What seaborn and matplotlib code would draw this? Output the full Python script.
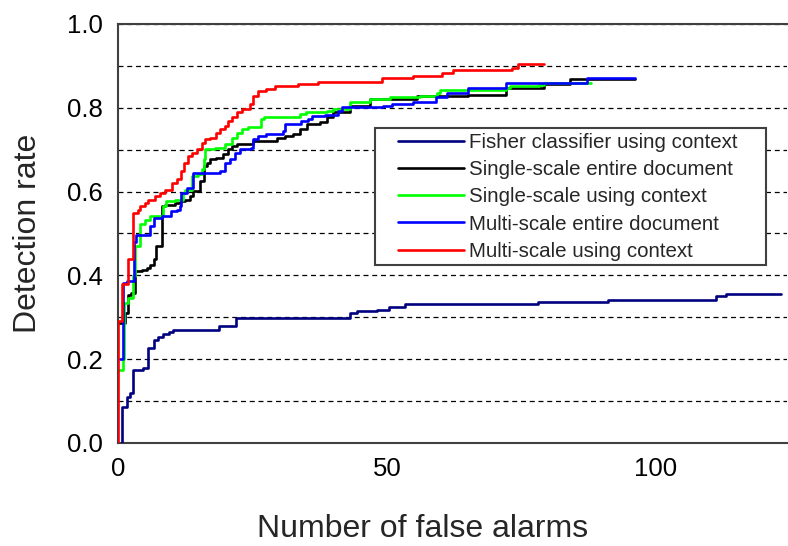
import numpy as np
import pandas as pd
import matplotlib
matplotlib.use("Agg")
import matplotlib.pyplot as plt
from matplotlib.ticker import FormatStrFormatter, MultipleLocator, FixedLocator
from matplotlib.patches import Rectangle
from matplotlib.lines import Line2D
import seaborn as sns

# ---------------- data ----------------
series_names = [
    "Fisher classifier using context",
    "Single-scale entire document",
    "Single-scale using context",
    "Multi-scale entire document",
    "Multi-scale using context",
]
series_colors = ["#000080", "#000000", "#00FF00", "#0000FF", "#FF0000"]

fisher_x = [0.8, 0.8, 1.6, 2.2, 2.8, 4.7, 5.6, 6.7, 7.5, 8.4, 9.4, 10.3, 18.8, 21.9,
            43.1, 44.4, 48.1, 50.3, 53.3, 78.1, 91.1, 111.2, 113.1, 123.2]
fisher_y = [0.0, 0.087, 0.11, 0.12, 0.175, 0.18, 0.227, 0.245, 0.253, 0.26, 0.265, 0.27,
            0.28, 0.298, 0.31, 0.314, 0.318, 0.325, 0.332, 0.337, 0.342, 0.35, 0.356, 0.356]

single_entire_x = [0.0, 1.3, 1.8, 2.4, 3.2, 4.4, 5.3, 5.9, 6.6, 7.0, 8.1, 8.7, 10.6, 11.5,
                   12.5, 13.4, 14.0, 15.2, 15.9, 16.5, 17.1, 18.3, 19.5, 20.5, 21.1, 22.1,
                   25.1, 29.5, 31.0, 32.6, 33.8, 35.1, 37.5, 38.8, 40.0, 43.1, 46.8, 55.5,
                   65.0, 72.1, 79.1, 84.0, 96.1]
single_entire_y = [0.286, 0.31, 0.354, 0.358, 0.41, 0.414, 0.418, 0.426, 0.438, 0.47, 0.566,
                   0.569, 0.573, 0.577, 0.581, 0.589, 0.601, 0.625, 0.66, 0.669, 0.677, 0.681,
                   0.689, 0.701, 0.709, 0.713, 0.721, 0.729, 0.733, 0.737, 0.749, 0.761, 0.765,
                   0.777, 0.789, 0.805, 0.821, 0.828, 0.830, 0.848, 0.856, 0.869, 0.869]

single_context_x = [0.0, 1.0, 1.2, 1.9, 2.8, 3.2, 4.1, 5.0, 6.0, 8.3, 9.0, 10.6, 12.0, 12.4,
                    13.8, 14.8, 15.6, 15.9, 16.2, 18.0, 19.9, 21.1, 22.1, 23.0, 24.2, 26.5,
                    27.1, 33.9, 35.0, 38.8, 40.0, 43.1, 46.8, 50.5, 56.1, 59.3, 59.9, 72.1,
                    72.8, 78.2, 79.1, 88.0]
single_context_y = [0.175, 0.2, 0.334, 0.346, 0.398, 0.47, 0.522, 0.533, 0.541, 0.565, 0.577,
                    0.581, 0.597, 0.605, 0.637, 0.641, 0.653, 0.677, 0.701, 0.705, 0.713,
                    0.729, 0.741, 0.749, 0.755, 0.773, 0.777, 0.785, 0.790, 0.793, 0.797,
                    0.813, 0.821, 0.825, 0.828, 0.836, 0.843, 0.848, 0.852, 0.854, 0.86, 0.86]

multi_entire_x = [0.3, 0.9, 1.0, 1.7, 3.0, 3.4, 5.9, 6.7, 8.1, 9.9, 10.9, 11.5, 11.8, 12.8,
                  14.0, 19.0, 19.9, 20.8, 21.7, 22.7, 24.8, 25.1, 26.1, 27.6, 30.7, 31.0,
                  34.1, 35.4, 36.0, 38.5, 40.9, 41.6, 49.3, 50.9, 54.9, 59.2, 61.1, 65.1,
                  72.1, 87.1, 96.1]
multi_entire_y = [0.2, 0.286, 0.382, 0.386, 0.48, 0.497, 0.517, 0.537, 0.541, 0.553, 0.557,
                  0.565, 0.597, 0.609, 0.645, 0.649, 0.669, 0.677, 0.693, 0.701, 0.705, 0.725,
                  0.733, 0.737, 0.745, 0.761, 0.769, 0.773, 0.781, 0.782, 0.793, 0.801, 0.805,
                  0.809, 0.813, 0.825, 0.836, 0.848, 0.86, 0.87, 0.87]

multi_context_x = [0.0, 0.0, 0.8, 1.8, 2.7, 3.7, 4.1, 5.0, 5.6, 6.9, 7.8, 8.7, 10.0, 10.9,
                   11.8, 12.3, 13.1, 13.7, 14.6, 15.6, 16.2, 17.1, 18.3, 19.0, 19.9, 20.5,
                   21.1, 22.1, 23.0, 24.5, 25.1, 26.1, 27.6, 29.2, 33.5, 37.2, 49.0, 54.9,
                   60.2, 62.3, 73.2, 74.4, 79.1]
multi_context_y = [0.0, 0.29, 0.38, 0.438, 0.55, 0.557, 0.565, 0.573, 0.581, 0.589, 0.597,
                   0.605, 0.621, 0.629, 0.649, 0.669, 0.685, 0.693, 0.701, 0.717, 0.725, 0.729,
                   0.741, 0.749, 0.757, 0.769, 0.777, 0.789, 0.797, 0.809, 0.828, 0.841, 0.846,
                   0.851, 0.856, 0.862, 0.870, 0.876, 0.883, 0.890, 0.896, 0.904, 0.904]

x_label = "Number of false alarms"
y_label = "Detection rate"
x_major_ticks = [0, 50, 100]
x_minor_ticks = [25, 75]

# ---------------- build long table ----------------
all_x = [fisher_x, single_entire_x, single_context_x, multi_entire_x, multi_context_x]
all_y = [fisher_y, single_entire_y, single_context_y, multi_entire_y, multi_context_y]
frames = []
for name, xs, ys in zip(series_names, all_x, all_y):
    frames.append(pd.DataFrame({"alarms": xs, "rate": ys, "series": name}))
df = pd.concat(frames, ignore_index=True)

# ---------------- style ----------------
sns.set_style("white")
plt.rcParams["font.family"] = ["Liberation Sans", "DejaVu Sans"]

W, H = 788, 546
fig = plt.figure(figsize=(W / 100, H / 100), dpi=100)
ax_l, ax_r, ax_t, ax_b = 118, 787, 24, 443
ax = fig.add_axes([ax_l / W, (H - ax_b) / H, (ax_r - ax_l) / W, (ax_b - ax_t) / H])

palette = dict(zip(series_names, series_colors))
for name in series_names:
    sub = df[df["series"] == name]
    sns.lineplot(data=sub, x="alarms", y="rate", color=palette[name], ax=ax,
                 estimator=None, sort=False, drawstyle="steps-post",
                 linewidth=1.9, legend=False, zorder=3)

x_per_px = 1 / 5.38
ax.set_xlim(0, (ax_r - ax_l) * x_per_px)
ax.set_ylim(0, 1.0)

ax.xaxis.set_major_locator(FixedLocator(x_major_ticks))
ax.xaxis.set_minor_locator(FixedLocator(x_minor_ticks))
ax.yaxis.set_major_locator(MultipleLocator(0.2))
ax.yaxis.set_minor_locator(MultipleLocator(0.1))
ax.yaxis.set_major_formatter(FormatStrFormatter("%.1f"))

ax.grid(False)
ax.yaxis.grid(True, which="both", linestyle=(0, (4, 3)), color="black",
              linewidth=0.9, zorder=1)
ax.set_axisbelow(True)

ax.tick_params(axis="both", which="both", direction="in", colors="#404040",
               labelcolor="black", labelsize=18.5)
ax.tick_params(axis="x", which="both", length=5, width=1.2, pad=10)
ax.tick_params(axis="y", which="both", length=4, width=1.2, pad=11)

for side in ["left", "bottom", "top"]:
    ax.spines[side].set_color("#404040")
    ax.spines[side].set_linewidth(1.5)
ax.spines["right"].set_visible(False)

ax.set_xlabel(x_label, fontsize=23)
ax.set_ylabel(y_label, fontsize=23)
ax.xaxis.set_label_coords((423 - ax_l) / (ax_r - ax_l), -0.17)
ax.yaxis.set_label_coords(-0.112, 0.5)

# legend: frame drawn as a rectangle behind the entries
handles = [Line2D([], [], color=c, linewidth=1.9) for c in series_colors]
leg = ax.legend(handles, series_names, loc="upper left",
                bbox_to_anchor=(398 / W, (H - 133) / H),
                bbox_transform=fig.transFigure, frameon=False,
                fontsize=14.8, handlelength=3.2, handletextpad=0.25,
                labelspacing=0.40, borderpad=0, borderaxespad=0)
leg.set_zorder(10)
frame = Rectangle((375 / W, (H - 265) / H), (766 - 375) / W, (265 - 128) / H,
                  transform=fig.transFigure, fill=True, facecolor="white",
                  edgecolor="#404040", linewidth=1.5, zorder=8, clip_on=False)
ax.add_patch(frame)

fig.savefig("out.png", dpi=100)
